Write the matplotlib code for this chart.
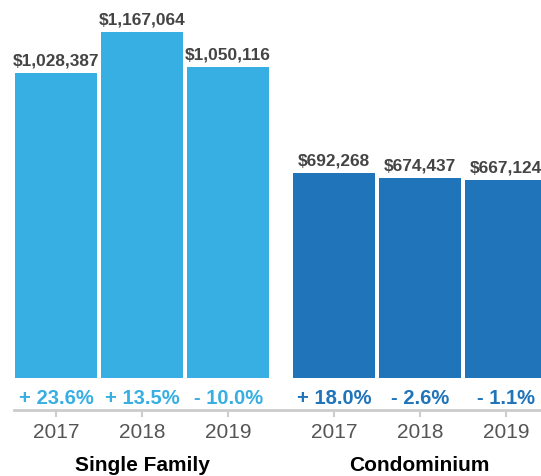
import matplotlib
matplotlib.use('Agg')
from matplotlib import pyplot as plt

plt.rcParams['font.family'] = ['Liberation Sans', 'DejaVu Sans']

groups = ['Single Family', 'Condominium']
years = ['2017', '2018', '2019']
single_family = [1028387, 1167064, 1050116]
condominium = [692268, 674437, 667124]
sf_change = ['+ 23.6%', '+ 13.5%', '- 10.0%']
condo_change = ['+ 18.0%', '- 2.6%', '- 1.1%']

light_blue = '#38afe3'
dark_blue = '#1f74ba'

fig = plt.figure(figsize=(5.41, 4.77), dpi=100)
# axes spans from the gray axis line (y=411px) up to the top of the figure
ax = fig.add_axes([14 / 541, (477 - 411) / 477, 527 / 541, 411 / 477])

x_sf = [0, 1, 2]
x_condo = [3.23, 4.23, 5.23]
width = 0.95

ax.bar(x_sf, single_family, width=width, color=light_blue)
ax.bar(x_condo, condominium, width=width, color=dark_blue)

def label_bars(xs, vals, changes, color):
	for x, v, c in zip(xs, vals, changes):
		ax.annotate('${:,}'.format(v), xy=(x, v), xytext=(0, 4),
					textcoords='offset points', ha='center', va='bottom',
					fontsize=12.4, fontweight='bold', color='#444444')
		ax.annotate(c, xy=(x, 0), xytext=(0, -14),
					textcoords='offset points', ha='center', va='center',
					fontsize=14.5, fontweight='bold', color=color)

label_bars(x_sf, single_family, sf_change, light_blue)
label_bars(x_condo, condominium, condo_change, dark_blue)

ax.set_ylim(-108000, 1278000)
ax.set_xlim(-0.49, 5.64)

ax.set_xticks(x_sf + x_condo)
ax.set_xticklabels(years + years, fontsize=15, color='#555555')
ax.tick_params(axis='x', length=5, width=1.5, color='#cccccc', pad=3.5)
ax.set_yticks([])

for s in ['top', 'right', 'left']:
	ax.spines[s].set_visible(False)
ax.spines['bottom'].set_color('#cccccc')
ax.spines['bottom'].set_linewidth(2)

ax.annotate(groups[0], xy=(x_sf[1], 0), xycoords=('data', 'axes fraction'),
			xytext=(0, -39), textcoords='offset points', ha='center', va='center',
			fontsize=15, fontweight='bold', color='black')
ax.annotate(groups[1], xy=(x_condo[1], 0), xycoords=('data', 'axes fraction'),
			xytext=(0, -39), textcoords='offset points', ha='center', va='center',
			fontsize=15, fontweight='bold', color='black')

fig.savefig('out.png', dpi=100)
